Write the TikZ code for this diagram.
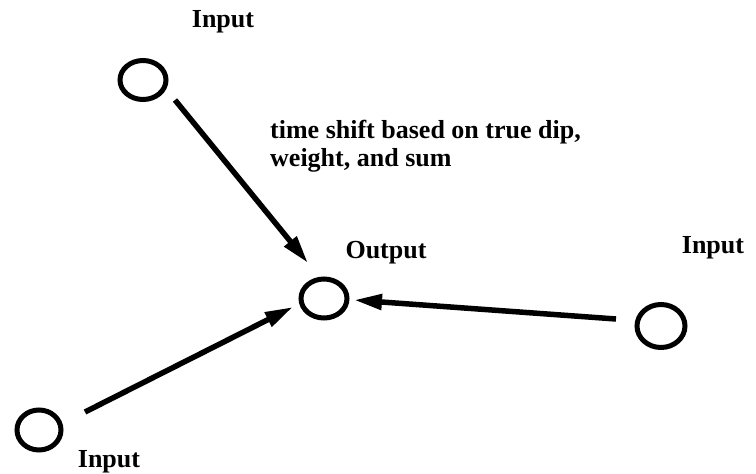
\documentclass[tikz,border=0pt]{standalone}
\usepackage{fontspec}
\setmainfont{Liberation Serif}
\usetikzlibrary{shapes.geometric,arrows.meta,calc}
\begin{document}
\begin{tikzpicture}[x=1pt,y=-1pt,
  ring/.style={draw,ellipse,line width=5pt,inner sep=0pt,minimum width=46pt,minimum height=39pt},
  conn/.style={line width=5.5pt,-{Triangle[length=28pt,width=15pt]}},
  lbl/.style={font=\fontsize{26}{28}\selectfont\bfseries,inner sep=0pt,anchor=base}]
\useasboundingbox (0,0) rectangle (756,474);
\node[ring] (tl) at (143,80) {};
\node[ring] (out) at (324,298.5) {};
\node[ring,minimum width=48pt,minimum height=43pt] (rt) at (661,326) {};
\node[ring,minimum width=44pt,minimum height=40pt] (bl) at (39,430) {};
\node[lbl] (ltl) at (223,27) {Input};
\node[lbl] (lout) at (386,258) {Output};
\node[lbl] (lrt) at (713,253) {Input};
\node[lbl] (lbl) at (109,467) {Input};
\node[lbl,anchor=base west,align=left] (note) at (270,166) {time shift based on true dip,\\weight, and sum};
\coordinate (t1) at ($(tl)+(32,20)$);
\coordinate (h1) at ($(out)+(-16,-35.5)$);
\coordinate (t2) at ($(rt)+(-45,-7)$);
\coordinate (h2) at ($(out)+(30,1.5)$);
\coordinate (t3) at ($(bl)+(46,-18)$);
\coordinate (h3) at ($(out)+(-31,8.5)$);
\draw[conn] (t1) -- (h1);
\draw[conn] (t2) -- (h2);
\draw[conn] (t3) -- (h3);
\end{tikzpicture}
\end{document}
